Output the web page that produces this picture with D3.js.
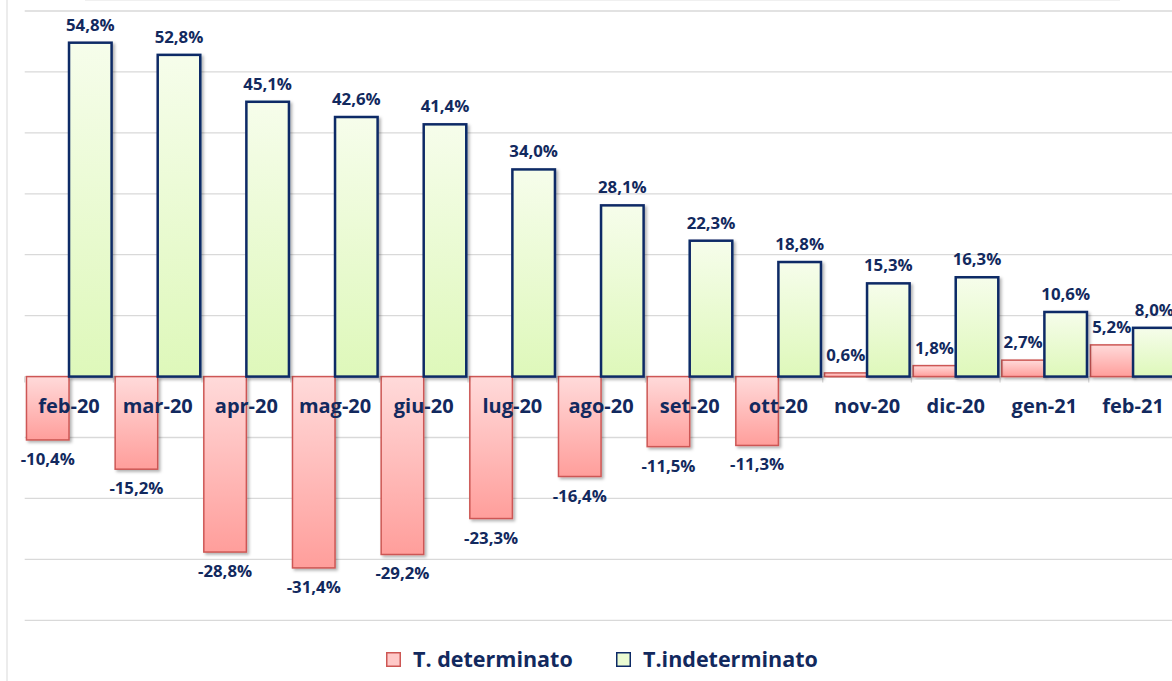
<!DOCTYPE html>
<html>
<head>
<meta charset="utf-8">
<script src="https://cdn.jsdelivr.net/npm/d3@7"></script>
<style>
  html, body { margin: 0; padding: 0; background: #ffffff; overflow: hidden; }
  svg { display: block; }
  text { font-family: "Open Sans", sans-serif; font-weight: 700; fill: #12295e; }
</style>
</head>
<body>
<svg id="chart" width="1172" height="681"></svg>
<script>
const categories = ["feb-20","mar-20","apr-20","mag-20","giu-20","lug-20","ago-20","set-20","ott-20","nov-20","dic-20","gen-21","feb-21"];
const seriesNames = ["T. determinato", "T.indeterminato"];
const determinato = [-10.4, -15.2, -28.8, -31.4, -29.2, -23.3, -16.4, -11.5, -11.3, 0.6, 1.8, 2.7, 5.2];
const indeterminato = [54.8, 52.8, 45.1, 42.6, 41.4, 34.0, 28.1, 22.3, 18.8, 15.3, 16.3, 10.6, 8.0];
const gridTicks = [-40, -30, -20, -10, 0, 10, 20, 30, 40, 50, 60];

const svg = d3.select("#chart");
const W = 1172, H = 681;

const plotLeft = 24.7, plotRight = 1177.4;
const x0 = d3.scaleBand().domain(categories).range([plotLeft, plotRight]).paddingInner(0.04).paddingOuter(0.02);
const x1 = d3.scaleBand().domain(seriesNames).range([0, x0.bandwidth()]).padding(0);
const y = d3.scaleLinear().domain([-40, 60]).range([620.3, 11]);

const defs = svg.append("defs");
const gRed = defs.append("linearGradient").attr("id", "gradRed").attr("x1", 0).attr("y1", 0).attr("x2", 0).attr("y2", 1);
gRed.append("stop").attr("offset", "0%").attr("stop-color", "#ffdada");
gRed.append("stop").attr("offset", "100%").attr("stop-color", "#ff9e9b");
const gGreen = defs.append("linearGradient").attr("id", "gradGreen").attr("x1", 0).attr("y1", 0).attr("x2", 0).attr("y2", 1);
gGreen.append("stop").attr("offset", "0%").attr("stop-color", "#f6fdeb");
gGreen.append("stop").attr("offset", "100%").attr("stop-color", "#def8ba");
const shadow = defs.append("filter").attr("id", "shadow").attr("x", "-20%").attr("y", "-20%").attr("width", "150%").attr("height", "150%");
shadow.append("feDropShadow").attr("dx", 2).attr("dy", 2).attr("stdDeviation", 1.5).attr("flood-color", "#000").attr("flood-opacity", 0.3);

// left border line and faint top border
svg.append("line").attr("x1", 7).attr("x2", 7).attr("y1", 0).attr("y2", H).attr("stroke", "#d9d9d9").attr("stroke-width", 1);
svg.append("line").attr("x1", 85).attr("x2", 1120).attr("y1", 0.5).attr("y2", 0.5).attr("stroke", "#f0f0f0").attr("stroke-width", 1);

// gridlines
svg.append("g").selectAll("line").data(gridTicks.filter(d => d !== 0)).join("line")
  .attr("x1", plotLeft).attr("x2", W)
  .attr("y1", d => y(d)).attr("y2", d => y(d))
  .attr("stroke", "#d9d9d9").attr("stroke-width", 1.3);

// zero axis with tick marks at category boundaries
svg.append("line").attr("x1", plotLeft).attr("x2", W).attr("y1", y(0)).attr("y2", y(0)).attr("stroke", "#d9d9d9").attr("stroke-width", 1.3);
const boundaries = categories.map((c, i) => x0.step() * i + plotLeft);
svg.append("g").selectAll("line").data(boundaries).join("line")
  .attr("x1", d => d).attr("x2", d => d).attr("y1", y(0)).attr("y2", y(0) + 6)
  .attr("stroke", "#d9d9d9").attr("stroke-width", 1.3);

const fmt = v => d3.format(".1f")(v).replace(".", ",").replace("−", "-") + "%";

// red bars
const redG = svg.append("g");
redG.selectAll("rect").data(determinato).join("rect")
  .attr("x", (d, i) => x0(categories[i]) + x1(seriesNames[0]))
  .attr("width", x1.bandwidth())
  .attr("y", d => y(Math.max(0, d)))
  .attr("height", d => Math.abs(y(d) - y(0)))
  .attr("fill", "url(#gradRed)")
  .attr("stroke", "#cd5754").attr("stroke-width", 1.5)
  .attr("filter", "url(#shadow)");

// green bars
const greenG = svg.append("g");
greenG.selectAll("rect").data(indeterminato).join("rect")
  .attr("x", (d, i) => x0(categories[i]) + x1(seriesNames[1]))
  .attr("width", x1.bandwidth())
  .attr("y", d => y(Math.max(0, d)))
  .attr("height", d => Math.abs(y(d) - y(0)))
  .attr("fill", "url(#gradGreen)")
  .attr("stroke", "#0d2a66").attr("stroke-width", 2.5)
  .attr("filter", "url(#shadow)");

// category labels (drawn over bars)
svg.append("g").selectAll("text").data(categories).join("text")
  .attr("x", d => x0(d) + x0.bandwidth() / 2)
  .attr("y", y(0) + 36)
  .attr("text-anchor", "middle")
  .attr("font-size", 20)
  .text(d => d);

// value labels
svg.append("g").selectAll("text").data(determinato).join("text")
  .attr("x", (d, i) => x0(categories[i]) + x1(seriesNames[0]) + x1.bandwidth() / 2)
  .attr("y", d => d < 0 ? y(d) + 25 : y(d) - 12)
  .attr("text-anchor", "middle")
  .attr("font-size", 16.8)
  .text(d => fmt(d));
svg.append("g").selectAll("text").data(indeterminato).join("text")
  .attr("x", (d, i) => x0(categories[i]) + x1(seriesNames[1]) + x1.bandwidth() / 2)
  .attr("y", d => y(d) - 12)
  .attr("text-anchor", "middle")
  .attr("font-size", 16.8)
  .text(d => fmt(d));

// legend
const legend = [
  { name: seriesNames[0], x: 386, fill: "#ffc9c8", stroke: "#cd5754" },
  { name: seriesNames[1], x: 616, fill: "#eafbd2", stroke: "#0d2a66" }
];
const lg = svg.append("g").selectAll("g").data(legend).join("g");
lg.append("rect").attr("x", d => d.x + 0.75).attr("y", 652.75).attr("width", 13.5).attr("height", 13.5)
  .attr("fill", d => d.fill).attr("stroke", d => d.stroke).attr("stroke-width", 1.5);
lg.append("text").attr("x", d => d.x + 27).attr("y", 667).attr("font-size", 21.5).text(d => d.name);
</script>
</body>
</html>
